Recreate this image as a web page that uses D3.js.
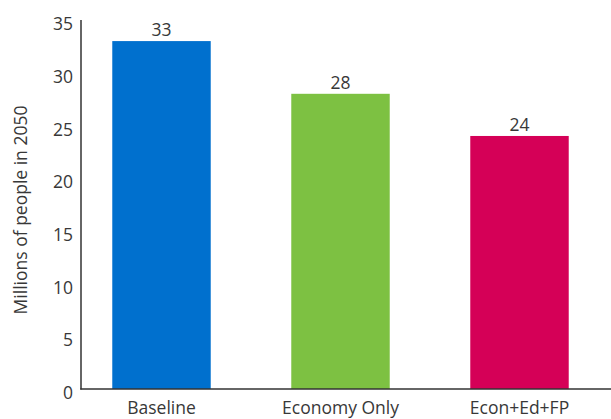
<!DOCTYPE html>
<html>
<head>
<meta charset="utf-8">
<script src="https://cdn.jsdelivr.net/npm/d3@7"></script>
<style>
  html, body { margin: 0; padding: 0; background: #fff; }
  svg text { font-family: "Open Sans", Lato, sans-serif; fill: #383838; }
</style>
</head>
<body>
<svg id="chart" width="611" height="419"></svg>
<script>
// Population scenarios for 2050 (millions of people)
const categories = ["Baseline", "Economy Only", "Econ+Ed+FP"];
const values = [33, 28, 24];
const colors = ["#0070CE", "#7DC142", "#D50057"];
const yTicks = [0, 5, 10, 15, 20, 25, 30, 35];
const yTitle = "Millions of people in 2050";

const svg = d3.select("#chart");
const axisLeft = 81, axisBottom = 389, axisTop = 20, axisRight = 611;
const fontSize = 17.5;

const x = d3.scaleBand()
  .domain(categories)
  .range([72, 609])
  .paddingInner(0.45)
  .paddingOuter(0.225);

const y = d3.scaleLinear()
  .domain([0, 35])
  .range([axisBottom, axisTop]);

// Bars
svg.selectAll("rect.bar")
  .data(values)
  .join("rect")
  .attr("class", "bar")
  .attr("x", (d, i) => x(categories[i]))
  .attr("width", x.bandwidth())
  .attr("y", d => y(d))
  .attr("height", d => y(0) - y(d))
  .attr("fill", (d, i) => colors[i]);

// Value labels above bars
svg.selectAll("text.value")
  .data(values)
  .join("text")
  .attr("class", "value")
  .attr("x", (d, i) => x(categories[i]) + x.bandwidth() / 2)
  .attr("y", d => y(d) - 5)
  .attr("text-anchor", "middle")
  .attr("font-size", fontSize)
  .text(d => d3.format("d")(d));

// Axis lines
svg.append("line")
  .attr("x1", axisLeft).attr("x2", axisLeft)
  .attr("y1", axisTop).attr("y2", axisBottom + 0.5)
  .attr("stroke", "#333").attr("stroke-width", 1.5);
svg.append("line")
  .attr("x1", axisLeft - 0.75).attr("x2", axisRight)
  .attr("y1", axisBottom).attr("y2", axisBottom)
  .attr("stroke", "#333").attr("stroke-width", 1.5);

// Y tick labels
svg.selectAll("text.ytick")
  .data(yTicks)
  .join("text")
  .attr("class", "ytick")
  .attr("x", 73)
  .attr("y", d => y(d) + 4)
  .attr("dy", "0.35em")
  .attr("text-anchor", "end")
  .attr("font-size", fontSize)
  .text(d => d);

// Category labels
svg.selectAll("text.xlabel")
  .data(categories)
  .join("text")
  .attr("class", "xlabel")
  .attr("x", d => x(d) + x.bandwidth() / 2)
  .attr("y", 414)
  .attr("text-anchor", "middle")
  .attr("font-size", fontSize)
  .text(d => d);

// Y axis title
svg.append("text")
  .attr("transform", `translate(27, 210) rotate(-90)`)
  .attr("text-anchor", "middle")
  .attr("font-size", fontSize)
  .text(yTitle);
</script>
</body>
</html>
